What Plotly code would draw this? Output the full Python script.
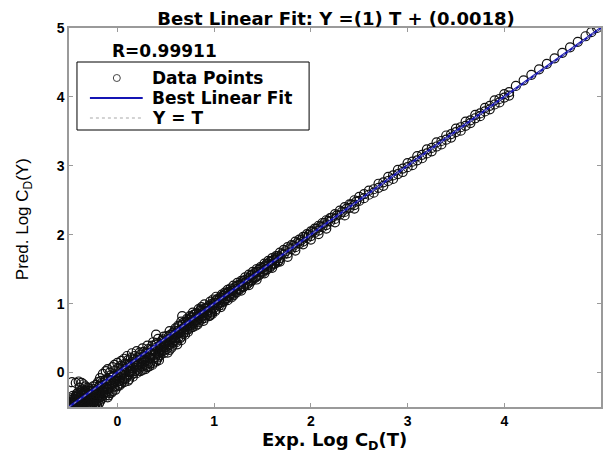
import plotly.graph_objects as go

# Regression of predicted vs. experimental log drag coefficient
title_text = "Best Linear Fit: Y =(1) T + (0.0018)"
r_value_text = "R=0.99911"
legend_labels = ["Data Points", "Best Linear Fit", "Y = T"]
fit_slope = 1.0
fit_intercept = 0.0018
axis_range = [-0.5, 5.0]
tick_values = [0, 1, 2, 3, 4, 5]
tick_labels = ["0", "1", "2", "3", "4", "5"]

# (T, Y) pairs: low-end cluster
low_cluster = [
    (-0.49, -0.49), (-0.48, -0.46), (-0.47, -0.42), (-0.46, -0.48), (-0.45, -0.38),
    (-0.44, -0.45), (-0.43, -0.35), (-0.42, -0.47), (-0.41, -0.40), (-0.40, -0.32),
    (-0.39, -0.46), (-0.38, -0.37), (-0.37, -0.29), (-0.36, -0.44), (-0.35, -0.33),
    (-0.34, -0.48), (-0.33, -0.26), (-0.32, -0.41), (-0.31, -0.30), (-0.30, -0.47),
    (-0.29, -0.23), (-0.28, -0.38), (-0.27, -0.45), (-0.26, -0.27), (-0.25, -0.20),
    (-0.24, -0.42), (-0.23, -0.33), (-0.22, -0.18), (-0.21, -0.47), (-0.20, -0.25),
    (-0.48, -0.40), (-0.46, -0.44), (-0.44, -0.39), (-0.42, -0.36), (-0.40, -0.43),
    (-0.38, -0.45), (-0.36, -0.31), (-0.34, -0.38), (-0.32, -0.35), (-0.30, -0.26),
    (-0.28, -0.46), (-0.26, -0.36), (-0.24, -0.31), (-0.22, -0.40), (-0.20, -0.14),
    (-0.19, -0.21), (-0.18, -0.30), (-0.17, -0.12), (-0.16, -0.24),
    (-0.47, -0.14), (-0.43, -0.15), (-0.40, -0.13), (-0.37, -0.15), (-0.35, -0.17),
    (-0.33, -0.20), (-0.39, -0.22), (-0.36, -0.25),
    (-0.47, -0.45), (-0.45, -0.49), (-0.43, -0.42), (-0.41, -0.47), (-0.39, -0.41),
    (-0.37, -0.48), (-0.35, -0.42), (-0.33, -0.45), (-0.31, -0.49), (-0.29, -0.41),
    (-0.27, -0.36), (-0.25, -0.44), (-0.23, -0.49), (-0.21, -0.38), (-0.19, -0.45),
    (-0.18, -0.42), (-0.46, -0.34), (-0.41, -0.30), (-0.38, -0.27), (-0.34, -0.28),
    (-0.31, -0.22), (-0.28, -0.31), (-0.26, -0.41), (-0.24, -0.24), (-0.22, -0.29),
    (-0.20, -0.35),
    (-0.49, -0.44), (-0.48, -0.50), (-0.47, -0.37), (-0.45, -0.43), (-0.44, -0.50),
    (-0.43, -0.39), (-0.42, -0.31), (-0.40, -0.48), (-0.39, -0.35), (-0.38, -0.42),
    (-0.37, -0.33), (-0.36, -0.49), (-0.35, -0.37), (-0.34, -0.43), (-0.33, -0.31),
    (-0.32, -0.47), (-0.31, -0.39), (-0.30, -0.33), (-0.29, -0.45), (-0.28, -0.27),
    (-0.27, -0.40), (-0.26, -0.48), (-0.25, -0.30), (-0.24, -0.37),
]

# (T, Y) pairs: wide band up to T = 1.2
wide_band = [
    (-0.18, -0.36), (-0.18, -0.08), (-0.15, -0.28), (-0.15, -0.02), (-0.15, -0.18),
    (-0.12, -0.33), (-0.12, -0.10), (-0.12, 0.02), (-0.10, -0.24), (-0.10, 0.05),
    (-0.08, -0.15), (-0.08, -0.30), (-0.08, 0.00), (-0.05, -0.22), (-0.05, 0.08),
    (-0.05, -0.07), (-0.03, -0.12), (-0.03, 0.11), (0.00, -0.20), (0.00, -0.04),
    (0.00, 0.14), (0.02, 0.06), (0.02, -0.12), (0.04, -0.16), (0.04, 0.17),
    (0.04, -0.02), (0.07, 0.03), (0.07, 0.20), (0.07, -0.09), (0.10, -0.05),
    (0.10, 0.12), (0.10, 0.24), (0.12, 0.01), (0.12, -0.10), (0.15, 0.09),
    (0.15, 0.28), (0.15, -0.03), (0.18, 0.16), (0.18, 0.02), (0.20, 0.31),
    (0.20, -0.01), (0.20, 0.10), (0.23, 0.07), (0.23, 0.21), (0.26, 0.35),
    (0.26, 0.04), (0.26, 0.14), (0.28, 0.24), (0.28, 0.10), (0.31, 0.18),
    (0.31, 0.39), (0.31, 0.08), (0.34, 0.27), (0.34, 0.13), (0.37, 0.44),
    (0.37, 0.20), (0.37, 0.31), (0.40, 0.16), (0.40, 0.36), (0.40, 0.55),
    (0.42, 0.27), (0.42, 0.49), (0.42, 0.22), (0.45, 0.33), (0.45, 0.41),
    (0.48, 0.28), (0.48, 0.52), (0.48, 0.38), (0.51, 0.45), (0.51, 0.34),
    (0.54, 0.60), (0.54, 0.40), (0.54, 0.49), (0.57, 0.43), (0.57, 0.55),
    (0.60, 0.64), (0.60, 0.50), (0.60, 0.46), (0.63, 0.57), (0.63, 0.68),
    (0.66, 0.52), (0.66, 0.62), (0.66, 0.74), (0.67, 0.82), (0.69, 0.66),
    (0.69, 0.58), (0.72, 0.78), (0.72, 0.63), (0.72, 0.70), (0.75, 0.69),
    (0.75, 0.82), (0.78, 0.66), (0.78, 0.76), (0.78, 0.87), (0.81, 0.80),
    (0.81, 0.73), (0.84, 0.92), (0.84, 0.78), (0.84, 0.85), (0.87, 0.82),
    (0.87, 0.95), (0.90, 0.88), (0.90, 0.79), (0.90, 0.99), (0.93, 0.85),
    (0.93, 0.94), (0.95, 0.82), (0.96, 1.03), (0.96, 0.83), (0.96, 0.91),
    (0.98, 0.85), (0.99, 0.97), (0.99, 1.06), (1.02, 0.92), (1.02, 1.01),
    (1.02, 1.10), (1.05, 1.05), (1.05, 0.97), (1.08, 1.13), (1.08, 1.02),
    (1.08, 1.08), (1.11, 1.07), (1.11, 1.16), (1.14, 1.11), (1.14, 1.05),
    (1.14, 1.20), (1.17, 1.15), (1.17, 1.22), (1.20, 1.12), (1.20, 1.19),
    (1.20, 1.26),
]

# (T, Y) pairs: centre of the band, low to mid range
core_band = [
    (-0.19, -0.33), (-0.17, -0.27), (-0.16, -0.38), (-0.14, -0.22), (-0.13, -0.30),
    (-0.11, -0.17), (-0.10, -0.36), (-0.09, -0.24), (-0.07, -0.11), (-0.06, -0.29),
    (-0.04, -0.16), (-0.02, -0.25), (-0.01, -0.08), (0.01, -0.18), (0.03, -0.01),
    (0.05, -0.10), (0.06, 0.09), (0.08, -0.04), (0.09, 0.05), (0.11, -0.12),
    (0.13, 0.11), (0.14, 0.02), (0.16, -0.06), (0.17, 0.19), (0.19, 0.07),
    (0.21, 0.15), (0.22, 0.03), (0.24, 0.26), (0.25, 0.12), (0.27, 0.19),
    (0.29, 0.05), (0.30, 0.29), (0.32, 0.14), (0.33, 0.22), (0.35, 0.33),
    (0.36, 0.11), (0.38, 0.26), (0.39, 0.40), (0.41, 0.19), (0.43, 0.32),
    (0.44, 0.25), (0.46, 0.46), (0.47, 0.31), (0.49, 0.43), (0.50, 0.37),
    (0.52, 0.29), (0.53, 0.52), (0.55, 0.44), (0.56, 0.36), (0.58, 0.58),
    (0.59, 0.47), (0.61, 0.55), (0.62, 0.41), (0.64, 0.61), (0.65, 0.50),
    (0.67, 0.69), (0.68, 0.56), (0.70, 0.63), (0.71, 0.74), (0.73, 0.59),
    (0.74, 0.72), (0.76, 0.65), (0.77, 0.80), (0.79, 0.71), (0.80, 0.84),
    (0.82, 0.76), (0.83, 0.70), (0.85, 0.89), (0.86, 0.79), (0.88, 0.86),
    (0.89, 0.75), (0.91, 0.93), (0.92, 0.83), (0.94, 0.90), (0.95, 0.97),
    (0.97, 0.87), (0.98, 0.94), (1.00, 1.01), (1.01, 0.89), (1.03, 0.98),
    (1.04, 1.07), (1.06, 1.01), (1.07, 0.95), (1.09, 1.11), (1.10, 1.03),
    (1.12, 1.14), (1.13, 1.08), (1.15, 1.17), (1.16, 1.10), (1.18, 1.19),
    (1.19, 1.14), (1.22, 1.24), (1.23, 1.16), (1.26, 1.27), (1.27, 1.22),
    (1.30, 1.33), (1.31, 1.25), (1.34, 1.35), (1.35, 1.30), (1.38, 1.41),
    (1.39, 1.34), (1.42, 1.44), (1.43, 1.38), (1.46, 1.49), (1.47, 1.42),
    (1.50, 1.52), (1.51, 1.47), (1.54, 1.57), (1.55, 1.50), (1.58, 1.61),
    (1.59, 1.55), (1.62, 1.64), (1.63, 1.58), (1.66, 1.69), (1.67, 1.63),
    (1.70, 1.72), (1.74, 1.76), (1.78, 1.80), (1.82, 1.84), (1.86, 1.88),
    (1.90, 1.92), (1.94, 1.97), (1.98, 2.00), (2.02, 2.05), (2.06, 2.09),
    (2.10, 2.12), (2.14, 2.17), (2.18, 2.20), (2.22, 2.25), (2.27, 2.28),
    (2.32, 2.33), (2.37, 2.38), (2.42, 2.44), (2.47, 2.48),
]

# (T, Y) pairs: densest part of the band
dense_core = [
    (-0.25, -0.36), (-0.24, -0.47), (-0.23, -0.27), (-0.22, -0.44), (-0.21, -0.31),
    (-0.20, -0.41), (-0.19, -0.27), (-0.18, -0.19), (-0.17, -0.35), (-0.16, -0.15),
    (-0.15, -0.33), (-0.14, -0.29), (-0.13, -0.12), (-0.12, -0.21), (-0.11, -0.28),
    (-0.10, -0.09), (-0.09, -0.33), (-0.08, -0.20), (-0.07, -0.04), (-0.06, -0.17),
    (-0.05, -0.27), (-0.04, -0.06), (-0.03, -0.20), (-0.02, 0.03), (-0.01, -0.14),
    (0.00, -0.10), (0.01, 0.07), (0.02, -0.19), (0.03, -0.07), (0.04, 0.10),
    (0.05, -0.13), (0.06, 0.01), (0.07, -0.14), (0.08, 0.13), (0.09, -0.08),
    (0.10, 0.07), (0.11, 0.18), (0.12, -0.03), (0.13, 0.06), (0.14, 0.21),
    (0.15, 0.03), (0.16, 0.13), (0.17, -0.01), (0.18, 0.24), (0.19, 0.12),
    (0.20, 0.04), (0.21, 0.22), (0.22, 0.11), (0.23, 0.29), (0.24, 0.02),
    (0.25, 0.19), (0.26, 0.09), (0.27, 0.30), (0.28, 0.16), (0.29, 0.22),
    (0.30, 0.11), (0.31, 0.27), (0.32, 0.34), (0.33, 0.09), (0.34, 0.20),
    (0.35, 0.27), (0.36, 0.39), (0.37, 0.14), (0.38, 0.33), (0.39, 0.22),
    (0.40, 0.28), (0.41, 0.43), (0.42, 0.35), (0.43, 0.18), (0.44, 0.39),
    (0.45, 0.29), (0.46, 0.36), (0.47, 0.48), (0.48, 0.45), (0.49, 0.32),
    (0.50, 0.42), (0.51, 0.53), (0.52, 0.39), (0.53, 0.46), (0.54, 0.33),
    (0.55, 0.55), (0.56, 0.48), (0.57, 0.39), (0.58, 0.51), (0.59, 0.61),
    (0.60, 0.56), (0.61, 0.44), (0.62, 0.60), (0.63, 0.51), (0.64, 0.67),
    (0.65, 0.58), (0.66, 0.47), (0.67, 0.63), (0.68, 0.72), (0.69, 0.61),
    (0.70, 0.55), (0.71, 0.68), (0.72, 0.66), (0.73, 0.76), (0.74, 0.63),
    (0.75, 0.74), (0.76, 0.80), (0.77, 0.69), (0.78, 0.72), (0.79, 0.84),
    (0.80, 0.75), (0.81, 0.68), (0.82, 0.86), (0.83, 0.81), (0.84, 0.73),
    (0.85, 0.83), (0.86, 0.91), (0.87, 0.77), (0.88, 0.90), (0.89, 0.83),
    (0.90, 0.93), (0.92, 0.88), (0.94, 0.96), (0.96, 0.88), (0.98, 1.00),
    (1.00, 0.94), (1.02, 1.05), (1.04, 0.99), (1.06, 1.09), (1.08, 0.98),
    (1.10, 1.12), (1.12, 1.06), (1.14, 1.16), (1.16, 1.13), (1.18, 1.09),
    (1.20, 1.22), (1.22, 1.17), (1.24, 1.26), (1.26, 1.20), (1.28, 1.29),
    (1.30, 1.24), (1.32, 1.34), (1.34, 1.28), (1.36, 1.37), (1.38, 1.32),
    (1.40, 1.42), (1.42, 1.37), (1.44, 1.46), (1.46, 1.41), (1.48, 1.50),
    (1.50, 1.45), (1.52, 1.54), (1.54, 1.49), (1.56, 1.58), (1.58, 1.53),
    (1.60, 1.62), (1.62, 1.58), (1.64, 1.66), (1.66, 1.61),
]

# (T, Y) pairs: mid range
mid_band = [
    (1.24, 1.21), (1.24, 1.30), (1.28, 1.25), (1.28, 1.33), (1.28, 1.19),
    (1.32, 1.30), (1.32, 1.38), (1.36, 1.33), (1.36, 1.27), (1.36, 1.42),
    (1.40, 1.38), (1.40, 1.46), (1.44, 1.40), (1.44, 1.35), (1.44, 1.50),
    (1.48, 1.46), (1.48, 1.53), (1.52, 1.49), (1.52, 1.44), (1.52, 1.58),
    (1.56, 1.55), (1.56, 1.62), (1.60, 1.57), (1.60, 1.52), (1.60, 1.66),
    (1.64, 1.63), (1.64, 1.69), (1.68, 1.66), (1.68, 1.61), (1.68, 1.74),
    (1.72, 1.71), (1.72, 1.78), (1.76, 1.73), (1.76, 1.68), (1.76, 1.82),
    (1.80, 1.79), (1.80, 1.85), (1.84, 1.82), (1.84, 1.77), (1.84, 1.90),
    (1.88, 1.87), (1.88, 1.93), (1.92, 1.90), (1.92, 1.86), (1.92, 1.97),
    (1.96, 1.95), (1.96, 2.01), (2.00, 1.98), (2.00, 1.93), (2.00, 2.05),
    (2.04, 2.03), (2.04, 2.09), (2.08, 2.06), (2.08, 2.01), (2.08, 2.13),
    (2.12, 2.11), (2.12, 2.17), (2.16, 2.14), (2.16, 2.09), (2.16, 2.21),
    (2.20, 2.19), (2.20, 2.24), (2.25, 2.23), (2.25, 2.18), (2.25, 2.30),
    (2.30, 2.29), (2.30, 2.35), (2.35, 2.33), (2.35, 2.28), (2.35, 2.40),
    (2.40, 2.39), (2.40, 2.44), (2.45, 2.43), (2.45, 2.38), (2.45, 2.50),
    (2.50, 2.49), (2.50, 2.55),
]

# (T, Y) pairs: upper range
high_band = [
    (2.55, 2.53), (2.55, 2.59), (2.60, 2.58), (2.60, 2.64), (2.65, 2.66),
    (2.65, 2.61), (2.70, 2.68), (2.70, 2.74), (2.75, 2.76), (2.75, 2.71),
    (2.80, 2.78), (2.80, 2.84), (2.85, 2.86), (2.85, 2.81), (2.90, 2.88),
    (2.90, 2.94), (2.95, 2.96), (2.95, 2.91), (3.00, 2.98), (3.00, 3.04),
    (3.05, 3.06), (3.05, 3.01), (3.10, 3.08), (3.10, 3.14), (3.15, 3.16),
    (3.15, 3.11), (3.20, 3.18), (3.20, 3.24), (3.25, 3.26), (3.25, 3.21),
    (3.30, 3.28), (3.30, 3.34), (3.35, 3.36), (3.35, 3.31), (3.40, 3.38),
    (3.40, 3.44), (3.45, 3.46), (3.45, 3.41), (3.50, 3.49), (3.50, 3.54),
    (3.55, 3.56), (3.55, 3.51), (3.60, 3.58), (3.60, 3.64), (3.65, 3.66),
    (3.65, 3.62), (3.70, 3.69), (3.70, 3.74), (3.75, 3.76), (3.75, 3.72),
    (3.80, 3.79), (3.80, 3.84), (3.85, 3.87), (3.85, 3.82), (3.90, 3.89),
    (3.90, 3.95), (3.95, 3.97), (3.95, 3.92), (4.00, 3.99), (4.00, 4.04),
    (4.05, 4.07), (4.05, 4.02),
]

# (T, Y) pairs: top end
top_end = [
    (4.12, 4.16), (4.20, 4.24), (4.28, 4.32), (4.36, 4.40), (4.44, 4.48),
    (4.52, 4.56), (4.60, 4.64), (4.68, 4.72), (4.76, 4.80), (4.84, 4.88),
    (4.90, 4.94), (4.96, 5.00),
]

pairs = low_cluster + wide_band + core_band + dense_core + mid_band + high_band + top_end
targets = [p[0] for p in pairs]
outputs = [p[1] for p in pairs]

t_line = [axis_range[0], axis_range[1]]
fit_line = [fit_slope * t + fit_intercept for t in t_line]

SANS = "Liberation Sans, Arial, sans-serif"
WIDE_BOLD = "DejaVu Sans, Verdana, sans-serif"
AX_GRAY = "#9a9a9a"
FIT_BLUE = "#1414b4"
REF_GRAY = "#a8a8a8"

# plot box in pixels (for placing the legend / labels)
L, R, T, B = 69, 603, 28, 407


def px(x):
    return (x - L) / (R - L)


def py(y):
    return (B - y) / (B - T)


fig = go.Figure()
fig.add_trace(go.Scatter(
    x=targets, y=outputs, mode="markers", name=legend_labels[0],
    marker=dict(symbol="circle-open", size=9, color="#111111",
                line=dict(width=1.2, color="#111111")),
))
fig.add_trace(go.Scatter(
    x=t_line, y=fit_line, mode="lines", name=legend_labels[1],
    line=dict(color=FIT_BLUE, width=2.2),
))
fig.add_trace(go.Scatter(
    x=t_line, y=t_line, mode="lines", name=legend_labels[2],
    line=dict(color=REF_GRAY, width=1, dash="dot"),
))

axis_common = dict(
    range=axis_range, tickvals=tick_values, ticktext=tick_labels,
    showgrid=False, zeroline=False, showline=True, linecolor=AX_GRAY,
    linewidth=1.5, mirror="ticks", ticks="inside", ticklen=4,
    tickcolor=AX_GRAY,
    tickfont=dict(family=SANS, size=14, color="black", weight="bold"),
)

# legend box drawn with shapes
legend_shapes = [
    dict(type="rect", xref="paper", yref="paper", layer="above",
         x0=px(77), x1=px(310), y0=py(130), y1=py(62),
         line=dict(color="black", width=1), fillcolor="white"),
    dict(type="circle", xref="paper", yref="paper", layer="above",
         xsizemode="pixel", ysizemode="pixel",
         xanchor=px(117), yanchor=py(78), x0=-3.5, x1=3.5, y0=-3.5, y1=3.5,
         line=dict(color="#444444", width=1)),
    dict(type="line", xref="paper", yref="paper", layer="above",
         x0=px(90), x1=px(143), y0=py(98), y1=py(98),
         line=dict(color=FIT_BLUE, width=2.2)),
    dict(type="line", xref="paper", yref="paper", layer="above",
         x0=px(90), x1=px(143), y0=py(118), y1=py(118),
         line=dict(color=REF_GRAY, width=1.2, dash="dot")),
]

legend_annotations = [
    dict(text="<b>" + lab + "</b>", xref="paper", yref="paper",
         x=px(150), y=py(yc), xanchor="left", yanchor="middle", showarrow=False,
         font=dict(family=WIDE_BOLD, size=17, color="black"))
    for lab, yc in zip(legend_labels, [78, 98, 118])
]

fig.update_layout(
    width=604, height=454,
    margin=dict(l=L, r=604 - R, t=T, b=454 - B),
    paper_bgcolor="white", plot_bgcolor="white",
    showlegend=False,
    title=dict(text="<b>" + title_text + "</b>", x=336 / 604, xanchor="center",
               y=1 - 19 / 454, yanchor="middle",
               font=dict(family=WIDE_BOLD, size=18, color="black")),
    xaxis=axis_common,
    yaxis=axis_common,
    shapes=legend_shapes,
    annotations=[
        dict(text="<b>" + r_value_text + "</b>", xref="paper", yref="paper",
             x=px(110), y=py(51), xanchor="left", yanchor="middle", showarrow=False,
             font=dict(family=WIDE_BOLD, size=17, color="black")),
        dict(text="<b>Exp. Log C<sub>D</sub>(T)</b>", xref="paper", yref="paper",
             x=px(335), y=py(441), xanchor="center", yanchor="middle", showarrow=False,
             font=dict(family=WIDE_BOLD, size=18, color="black")),
        dict(text="Pred. Log C<sub>D</sub>(Y)", xref="paper", yref="paper",
             x=px(24), y=py(219), xanchor="center", yanchor="middle", showarrow=False,
             textangle=-90,
             font=dict(family="Liberation Sans Narrow, Arial Narrow, " + SANS,
                       size=17, color="black")),
    ] + legend_annotations,
)

fig.write_html("out.html")
